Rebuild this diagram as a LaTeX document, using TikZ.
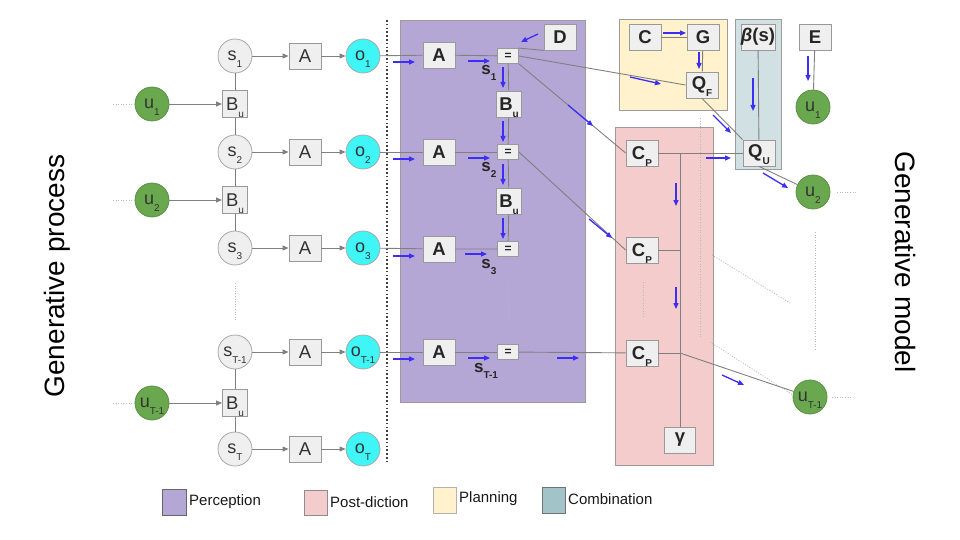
\documentclass[tikz,border=0pt]{standalone}
\usepackage{fontspec}
\setmainfont{Liberation Sans}
\usetikzlibrary{arrows.meta}
\definecolor{boxfill}{HTML}{EFEFEF}
\definecolor{boxline}{HTML}{999999}
\definecolor{circline}{HTML}{A8A8A8}
\definecolor{txt}{HTML}{333333}
\definecolor{ocyan}{HTML}{3FF5F5}
\definecolor{ugreen}{HTML}{6AA84F}
\definecolor{ugreenline}{HTML}{5C8F45}
\definecolor{linec}{HTML}{808080}
\definecolor{bluea}{HTML}{3C2EF5}
\definecolor{perc}{HTML}{B4A7D6}
\definecolor{post}{HTML}{F4CCCC}
\definecolor{plan}{HTML}{FFF2CC}
\definecolor{comb}{HTML}{D0E0E3}
\definecolor{combleg}{HTML}{A2C4C9}
\definecolor{regline}{HTML}{A09A9A}
\newcommand{\sbs}[1]{\raisebox{-0.36em}[0pt][0pt]{\fontsize{10}{10}\selectfont #1}}
\tikzset{
 gbox/.style={draw=boxline, fill=boxfill, line width=0.8pt, inner sep=0pt, minimum width=32pt, minimum height=26pt, text=txt, font=\fontsize{18.5}{18.5}\selectfont},
 bgbox/.style={gbox, font=\bfseries\fontsize{18.5}{18.5}\selectfont, text=black!85},
 eqbox/.style={gbox, minimum width=21pt, minimum height=15pt, font=\bfseries\fontsize{12}{12}\selectfont, text=black!85},
 bubox/.style={gbox, minimum width=25pt, minimum height=27pt},
 bbubox/.style={bgbox, minimum width=25pt, minimum height=26pt},
 scirc/.style={circle, draw=circline, fill=boxfill, line width=0.8pt, minimum size=34pt, inner sep=0pt, text=txt, font=\fontsize{18}{18}\selectfont},
 ocirc/.style={scirc, fill=ocyan},
 ucirc/.style={scirc, fill=ugreen, draw=ugreenline, text=black!80},
 link/.style={draw=linec, line width=0.9pt},
 garr/.style={link, -{Triangle[length=6pt,width=5pt]}},
 barr/.style={draw=bluea, line width=1.3pt, -{Triangle[length=6pt,width=5pt]}},
 fdots/.style={draw=gray!55, line width=0.8pt, dash pattern=on 1pt off 1.6pt},
 hdots/.style={draw=black!75, line width=1.8pt, dash pattern=on 1.6pt off 2.2pt},
 region/.style={draw=regline, line width=0.9pt},
 lbl/.style={font=\bfseries\fontsize{17}{17}\selectfont, text=black!85, inner sep=0pt},
 legtext/.style={anchor=west, inner sep=0pt, font=\fontsize{15}{15}\selectfont, text=black!90},
 sidetext/.style={font=\fontsize{28}{28}\selectfont, text=black, inner sep=0pt},
}
\begin{document}
\begin{tikzpicture}[x=1pt,y=-1pt]
\useasboundingbox (0,0) rectangle (960,540);

% side titles
\node[sidetext, rotate=90] (gp) at (57,276) {Generative process};
\node[sidetext, rotate=-90] (gm) at (905,262) {Generative model};

% regions
\fill[perc, region] (400,20) rectangle (585,402);
\fill[post, region] (615,127) rectangle (713,465);
\fill[plan, region] (619,19) rectangle (727,110);
\fill[comb, region] (735,19) rectangle (781,169);

% heavy dotted separator
\coordinate (sepT) at (387,20);
\coordinate (sepB) at (387,464);
\draw[hdots] (sepT) -- (sepB);

% ---------- generative process ----------
\node[scirc] (s1) at (235,56) {s\sbs{1}};
\node[scirc] (s2) at (235,152) {s\sbs{2}};
\node[scirc] (s3) at (235,248) {s\sbs{3}};
\node[scirc] (sT1) at (235,352) {s\sbs{T-1}};
\node[scirc] (sT) at (235,449) {s\sbs{T}};

\node[bubox] (gb1) at (235,104) {B\sbs{u}};
\node[bubox] (gb2) at (235,200) {B\sbs{u}};
\node[bubox] (gb3) at (235,403) {B\sbs{u}};

\node[ucirc] (u1) at (152,104) {u\sbs{1}};
\node[ucirc] (u2) at (152,200) {u\sbs{2}};
\node[ucirc] (uT1) at (152,403) {u\sbs{T-1}};

\foreach \i/\y in {1/56,2/152,3/248,T1/352,T/449}{
  \node[gbox] (ga\i) at (305,\y) {A};
}
\node[ocirc] (o1) at (363,56) {o\sbs{1}};
\node[ocirc] (o2) at (363,152) {o\sbs{2}};
\node[ocirc] (o3) at (363,248) {o\sbs{3}};
\node[ocirc] (oT1) at (363,352) {o\sbs{T-1}};
\node[ocirc] (oT) at (363,449) {o\sbs{T}};

\foreach \i in {1,2,3,T1,T}{
  \draw[garr] (s\i) -- (ga\i);
  \draw[garr] (ga\i) -- (o\i);
}
\draw[link] (s1) -- (gb1) -- (s2) -- (gb2) -- (s3);
\draw[link] (sT1) -- (gb3) -- (sT);
\draw[garr] (u1) -- (gb1);
\draw[garr] (u2) -- (gb2);
\draw[garr] (uT1) -- (gb3);

\coordinate (du1) at (113,104); \coordinate (du1b) at (134,104);
\coordinate (du2) at (113,200); \coordinate (du2b) at (134,200);
\coordinate (du3) at (113,403); \coordinate (du3b) at (134,403);
\draw[fdots] (du1) -- (du1b);
\draw[fdots] (du2) -- (du2b);
\draw[fdots] (du3) -- (du3b);
\coordinate (dsA) at (235,283); \coordinate (dsB) at (235,320);
\draw[fdots] (dsA) -- (dsB);

% ---------- perception ----------
\node[bgbox] (pa1) at (439,55) {A};
\node[bgbox] (pa2) at (439,152) {A};
\node[bgbox] (pa3) at (439,249) {A};
\node[bgbox] (paT1) at (439,352) {A};
\node[eqbox] (eq1) at (508,56) {=};
\node[eqbox] (eq2) at (508,152) {=};
\node[eqbox] (eq3) at (508,249) {=};
\node[eqbox] (eqT1) at (508,352) {=};
\node[bbubox] (pb1) at (509,104) {B\sbs{u}};
\node[bbubox] (pb2) at (509,201) {B\sbs{u}};
\node[bgbox] (D) at (560,37) {D};

\node[lbl] (ls1) at (489,70) {s\sbs{1}};
\node[lbl] (ls2) at (489,167) {s\sbs{2}};
\node[lbl] (ls3) at (489,264) {s\sbs{3}};
\node[lbl] (lsT1) at (486,368) {s\sbs{T-1}};

\draw[link] (o1) -- (pa1) -- (eq1);
\draw[link] (o2) -- (pa2) -- (eq2);
\draw[link] (o3) -- (pa3) -- (eq3);
\draw[link] (oT1) -- (paT1) -- (eqT1);
\draw[link] (eq1) -- (pb1) -- (eq2) -- (pb2) -- (eq3);
\draw[link] (D.south west) -- (eq1.north east);

\coordinate (dpA) at (508,283); \coordinate (dpB) at (508,318);
\draw[fdots] (dpA) -- (dpB);

% ---------- post-diction ----------
\node[bgbox] (cp1) at (642,153) {C\sbs{P}};
\node[bgbox] (cp2) at (642,250) {C\sbs{P}};
\node[bgbox] (cp3) at (642,353) {C\sbs{P}};
\node[bgbox, minimum width=31pt] (gam) at (680,440) {γ};
\coordinate (j1) at (680,153);
\coordinate (j2) at (680,250);
\coordinate (j3) at (680,353);

\coordinate (dcA) at (643,282); \coordinate (dcB) at (643,318);
\draw[fdots] (dcA) -- (dcB);

% ---------- planning / combination ----------
\node[bgbox] (C) at (645,37) {C};
\node[bgbox] (G) at (703,37) {G};
\node[bgbox] (QF) at (702,85) {Q\sbs{F}};
\node[bgbox] (beta) at (758,37) {\textit{β}(s)};
\node[bgbox] (QU) at (759,153) {Q\sbs{U}};
\node[bgbox] (E) at (815,37) {E};
\node[ucirc] (ur1) at (813,107) {u\sbs{1}};
\node[ucirc] (ur2) at (813,192) {u\sbs{2}};
\node[ucirc] (urT1) at (810,397) {u\sbs{T-1}};

% connectors of the model
\draw[link] (eq1.east) -- (QF.west);
\draw[link] (eq1.south east) -- (cp1.west);
\draw[link] (eq2.east) -- (cp2.west);
\draw[link] (eqT1) -- (cp3);
\draw[link] (cp1) -- (QU);
\draw[link] (cp2) -- (j2);
\draw[link] (cp3) -- (j3);
\draw[link] (j1) -- (gam);
\draw[link] (j3) -- (urT1);
\draw[link] (C) -- (G);
\draw[link] (G) -- (QF);
\draw[link] (QF.south) -- (QU.north west);
\draw[link] (beta) -- (QU);
\draw[link] (QU.south) -- (ur2);
\draw[link] (E) -- (ur1);

% light dotted guides
\coordinate (dv1A) at (700,118); \coordinate (dv1B) at (700,337);
\coordinate (dv2A) at (815,232); \coordinate (dv2B) at (815,350);
\coordinate (dd1A) at (712,255); \coordinate (dd1B) at (790,303);
\coordinate (dd2A) at (710,342); \coordinate (dd2B) at (793,395);
\coordinate (dr2A) at (837,192); \coordinate (dr2B) at (857,192);
\coordinate (dr3A) at (832,397); \coordinate (dr3B) at (852,397);
\draw[fdots] (dv1A) -- (dv1B);
\draw[fdots] (dv2A) -- (dv2B);
\draw[fdots] (dd1A) -- (dd1B);
\draw[fdots] (dd2A) -- (dd2B);
\draw[fdots] (dr2A) -- (dr2B);
\draw[fdots] (dr3A) -- (dr3B);

% ---------- blue message arrows ----------
\foreach \y in {62,159,256,359}{ \draw[barr] (393,\y) -- (415,\y); }
\draw[barr] (468,61) -- (490,61);
\draw[barr] (468,158) -- (490,158);
\draw[barr] (465,254) -- (487,254);
\draw[barr] (468,358) -- (490,358);
\draw[barr] (503,67) -- (503,88);
\draw[barr] (503,121) -- (503,142);
\draw[barr] (503,164) -- (503,185);
\draw[barr] (503,218) -- (503,239);
\draw[barr] (538,34) -- (521,42);
\draw[barr] (568,105) -- (593,126);
\draw[barr] (589,219) -- (612,238);
\draw[barr] (557,358) -- (579,358);
\draw[barr] (663,33) -- (686,33);
\draw[barr] (699,52) -- (699,69);
\draw[barr] (630,77) -- (661,84);
\draw[barr] (713,115) -- (731,133);
\draw[barr] (753,78) -- (753,111);
\draw[barr] (706,158) -- (731,158);
\draw[barr] (763,173) -- (788,188);
\draw[barr] (808,56) -- (808,81);
\draw[barr] (676,183) -- (676,206);
\draw[barr] (676,287) -- (676,309);
\draw[barr] (722,375) -- (744,385);

% ---------- legend ----------
\fill[perc, draw=black!60, line width=0.8pt] (162,489) rectangle (186,515);
\fill[post, draw=black!45, line width=0.8pt] (304,490) rectangle (327,515);
\fill[plan, draw=black!30, line width=0.8pt] (433,487) rectangle (456,513);
\fill[combleg, draw=black!55, line width=0.8pt] (542,487) rectangle (565,513);
\node[legtext] (lg1) at (189,502) {Perception};
\node[legtext] (lg2) at (330,502) {Post-diction};
\node[legtext] (lg3) at (459,499) {Planning};
\node[legtext] (lg4) at (568,499) {Combination};
\end{tikzpicture}
\end{document}
